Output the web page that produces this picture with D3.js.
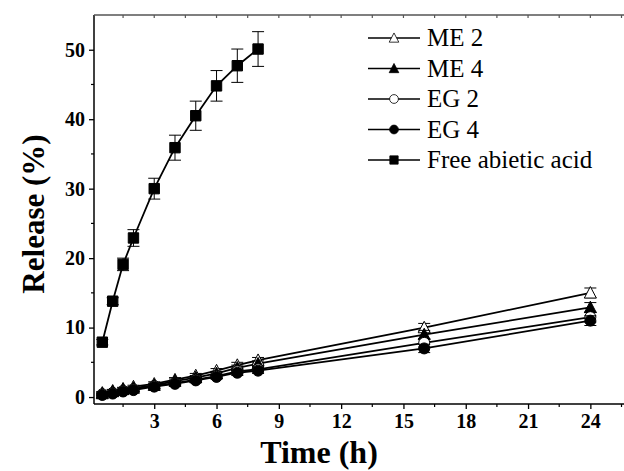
<!DOCTYPE html>
<html>
<head>
<meta charset="utf-8">
<script src="https://cdn.jsdelivr.net/npm/d3@7"></script>
<style>
  body { margin: 0; background: #fff; }
  text { font-family: "Liberation Serif", "Times New Roman", serif; }
</style>
</head>
<body>
<svg id="chart" width="624" height="471"></svg>
<script>
// time points (h)
const times = [0.5, 1, 1.5, 2, 3, 4, 5, 6, 7, 8, 16, 24];
const freeTimes = [0.5, 1, 1.5, 2, 3, 4, 5, 6, 7, 8];

const me2 = [0.6, 0.9, 1.2, 1.5, 1.9, 2.5, 3.1, 3.8, 4.6, 5.3, 10.0, 15.0];
const me4 = [0.5, 0.8, 1.1, 1.3, 1.7, 2.3, 2.8, 3.4, 4.2, 4.8, 9.0, 12.9];
const eg2 = [0.4, 0.6, 0.9, 1.1, 1.6, 2.0, 2.5, 3.0, 3.7, 4.0, 7.8, 11.5];
const eg4 = [0.3, 0.5, 0.8, 1.0, 1.5, 1.9, 2.4, 2.9, 3.5, 3.8, 7.0, 11.0];
const lowErr = [0.2, 0.2, 0.2, 0.2, 0.3, 0.3, 0.3, 0.3, 0.4, 0.4, 0.6, 0.7];

const freeAcid = [7.9, 13.8, 19.1, 22.9, 30.0, 35.9, 40.5, 44.8, 47.7, 50.1];
const freeErr = [0.4, 0.5, 0.9, 1.2, 1.5, 1.8, 2.1, 2.2, 2.4, 2.5];

const xTicks = [3, 6, 9, 12, 15, 18, 21, 24];
const yTicks = [0, 10, 20, 30, 40, 50];

const series = [
  { name: "ME 2", values: me2, t: times, err: lowErr, shape: "triangle", filled: false },
  { name: "ME 4", values: me4, t: times, err: lowErr, shape: "triangle", filled: true },
  { name: "EG 2", values: eg2, t: times, err: lowErr, shape: "circle", filled: false },
  { name: "EG 4", values: eg4, t: times, err: lowErr, shape: "circle", filled: true },
  { name: "Free abietic acid", values: freeAcid, t: freeTimes, err: freeErr, shape: "square", filled: true }
];

const svg = d3.select("#chart");
const plotL = 94, plotR = 624, plotT = 15, plotB = 404;

const x = d3.scaleLinear().domain([0.1, 25.62]).range([plotL, plotR]);
const y = d3.scaleLinear().domain([-1, 55]).range([plotB, plotT]);

// marker path centred on 0,0
function markerPath(shape) {
  if (shape === "triangle") return "M0,-6.3L6,5.2L-6,5.2Z";
  if (shape === "square") return "M-5.2,-5.2H5.2V5.2H-5.2Z";
  return d3.arc()({ innerRadius: 0, outerRadius: 5.5, startAngle: 0, endAngle: 2 * Math.PI });
}

// axes
const xAxis = d3.axisBottom(x).tickValues(xTicks).tickSize(5).tickPadding(5).tickFormat(d3.format("d"));
const gx = svg.append("g").attr("transform", `translate(0,${plotB})`).call(xAxis);
gx.select(".domain").attr("d", `M${plotL},0H${plotR}`).attr("stroke-width", 1.5);
gx.selectAll(".tick line").attr("stroke-width", 1.3);
gx.selectAll("text").attr("font-size", 20).attr("font-weight", "bold").attr("font-family", "Liberation Serif");

const xMinor = d3.range(1.5, 25.6, 3);
svg.append("g").selectAll("line").data(xMinor).join("line")
  .attr("x1", d => x(d)).attr("x2", d => x(d))
  .attr("y1", plotB).attr("y2", plotB + 3)
  .attr("stroke", "#000").attr("stroke-width", 1.2);

const yAxis = d3.axisLeft(y).tickValues(yTicks).tickSize(5).tickPadding(4).tickFormat(d3.format("d"));
const gy = svg.append("g").attr("transform", `translate(${plotL},0)`).call(yAxis);
gy.select(".domain").attr("d", `M0,${plotT}V${plotB}`).attr("stroke-width", 1.5);
gy.selectAll(".tick line").attr("stroke-width", 1.3);
gy.selectAll("text").attr("font-size", 20).attr("font-weight", "bold").attr("font-family", "Liberation Serif");

const yMinor = d3.range(5, 55, 10);
svg.append("g").selectAll("line").data(yMinor).join("line")
  .attr("x1", plotL - 3).attr("x2", plotL)
  .attr("y1", d => y(d)).attr("y2", d => y(d))
  .attr("stroke", "#000").attr("stroke-width", 1.2);

// top frame line with inward ticks
svg.append("line").attr("x1", plotL).attr("x2", plotR).attr("y1", plotT).attr("y2", plotT)
  .attr("stroke", "#555").attr("stroke-width", 1.5);
svg.append("g").selectAll("line").data(d3.range(1.5, 25.6, 1.5)).join("line")
  .attr("x1", d => x(d)).attr("x2", d => x(d))
  .attr("y1", plotT).attr("y2", plotT + 3)
  .attr("stroke", "#555").attr("stroke-width", 1.2);

// axis titles
svg.append("text").attr("x", 319).attr("y", 463).attr("text-anchor", "middle")
  .attr("font-size", 32).attr("font-weight", "bold").text("Time (h)");
svg.append("text").attr("transform", "translate(44,214) rotate(-90)").attr("text-anchor", "middle")
  .attr("font-size", 31).attr("font-weight", "bold").text("Release (%)");

// lines
const line = d3.line().x(d => x(d[0])).y(d => y(d[1]));
series.forEach(s => {
  svg.append("path")
    .datum(s.t.map((t, i) => [t, s.values[i]]))
    .attr("d", line)
    .attr("fill", "none").attr("stroke", "#000").attr("stroke-width", 1.8);
});

// error bars and markers
series.forEach(s => {
  const pts = s.t.map((t, i) => ({ t: t, v: s.values[i], e: s.err[i] }));
  const g = svg.append("g");
  const eb = g.selectAll("g.eb").data(pts).join("g").attr("class", "eb");
  eb.append("line")
    .attr("x1", d => x(d.t)).attr("x2", d => x(d.t))
    .attr("y1", d => y(d.v + d.e)).attr("y2", d => y(d.v - d.e))
    .attr("stroke", "#000").attr("stroke-width", 1);
  [1, -1].forEach(sign => {
    eb.append("line")
      .attr("x1", d => x(d.t) - 6).attr("x2", d => x(d.t) + 6)
      .attr("y1", d => y(d.v + sign * d.e)).attr("y2", d => y(d.v + sign * d.e))
      .attr("stroke", "#000").attr("stroke-width", 1);
  });
  g.selectAll("path").data(pts).join("path")
    .attr("d", markerPath(s.shape))
    .attr("transform", d => `translate(${x(d.t)},${y(d.v)})`)
    .attr("fill", s.filled ? "#000" : "#fff")
    .attr("stroke", "#000").attr("stroke-width", 1);
});

// legend
const legend = svg.append("g").selectAll("g").data(series).join("g")
  .attr("transform", (d, i) => `translate(368,${38 + i * 30.5})`);
legend.append("line").attr("x1", 0).attr("x2", 52).attr("y1", 0).attr("y2", 0)
  .attr("stroke", "#000").attr("stroke-width", 1.5);
legend.append("path")
  .attr("d", d => markerPath(d.shape))
  .attr("transform", "translate(26,0) scale(0.8)")
  .attr("fill", d => d.filled ? "#000" : "#fff")
  .attr("stroke", "#000").attr("stroke-width", 1);
legend.append("text").attr("x", 59).attr("y", 8)
  .attr("font-size", 25).text(d => d.name);
</script>
</body>
</html>
